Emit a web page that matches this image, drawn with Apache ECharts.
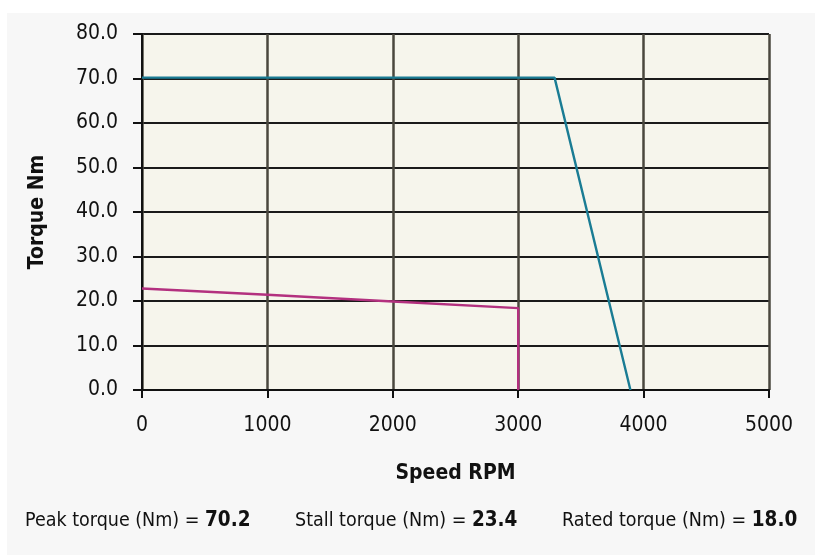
<!DOCTYPE html>
<html>
<head>
<meta charset="utf-8">
<script src="https://cdn.jsdelivr.net/npm/echarts@6/dist/echarts.min.js"></script>
<style>
  html, body { margin: 0; padding: 0; background: #ffffff; }
  #chart { width: 815px; height: 555px; }
</style>
</head>
<body>
<div id="chart"></div>
<script>
// Peak (intermittent) torque envelope: speed RPM, torque Nm
const peakSpeed = [0, 3290, 3895];
const peakTorque = [70.2, 70.2, 0];

// Continuous torque envelope
const contSpeed = [0, 1000, 2000, 3000, 3000];
const contTorque = [22.8, 21.4, 19.9, 18.4, 0];

// Summary figures
const peakValue = '70.2';
const stallValue = '23.4';
const ratedValue = '18.0';

const FONT = '"DejaVu Sans Condensed", "Open Sans", "Noto Sans", sans-serif';

const chart = echarts.init(document.getElementById('chart'), null, { renderer: 'canvas' });

const toPairs = (xs, ys) => xs.map((x, i) => [x, ys[i]]);

const summaryRich = {
  n: { fontFamily: FONT, fontSize: 19.5, fill: '#111' },
  b: { fontFamily: FONT, fontSize: 20.5, fontWeight: 'bold', fill: '#111' }
};

chart.setOption({
  backgroundColor: '#ffffff',
  animation: false,
  graphic: [
    {
      type: 'rect', z: -10, silent: true,
      shape: { x: 7, y: 13, width: 808, height: 542 },
      style: { fill: '#f7f7f7' }
    },
    {
      type: 'text', left: 25, top: 510,
      style: { text: '{n|Peak torque (Nm) = }{b|' + peakValue + '}', rich: summaryRich }
    },
    {
      type: 'text', left: 295, top: 510,
      style: { text: '{n|Stall torque (Nm) = }{b|' + stallValue + '}', rich: summaryRich }
    },
    {
      type: 'text', left: 562, top: 510,
      style: { text: '{n|Rated torque (Nm) = }{b|' + ratedValue + '}', rich: summaryRich }
    }
  ],
  grid: {
    left: 142, right: 46, top: 34, bottom: 165,
    show: true, backgroundColor: '#f6f5ec', borderWidth: 0
  },
  xAxis: {
    type: 'value', min: 0, max: 5000, interval: 1000,
    name: 'Speed RPM', nameLocation: 'middle', nameGap: 73,
    nameTextStyle: { fontFamily: FONT, fontSize: 21, fontWeight: 'bold', color: '#111' },
    axisLine: { show: true, lineStyle: { color: '#111', width: 2 } },
    axisTick: { show: true, inside: false, length: 8, lineStyle: { color: '#111', width: 2 } },
    axisLabel: {
      fontFamily: FONT, fontSize: 21, color: '#111', margin: 25,
      formatter: v => String(v)
    },
    splitLine: { show: true, lineStyle: { color: '#4a473e', width: 2.5 } }
  },
  yAxis: {
    type: 'value', min: 0, max: 80, interval: 10,
    name: 'Torque Nm', nameLocation: 'middle', nameGap: 94, nameRotate: 90,
    nameTextStyle: { fontFamily: FONT, fontSize: 21, fontWeight: 'bold', color: '#111' },
    axisLine: { show: true, lineStyle: { color: '#111', width: 2 } },
    axisTick: { show: true, inside: false, length: 9, lineStyle: { color: '#111', width: 2 } },
    axisLabel: {
      fontFamily: FONT, fontSize: 21, color: '#111', margin: 24,
      formatter: v => v.toFixed(1)
    },
    splitLine: { show: true, lineStyle: { color: '#1a1a1a', width: 2 } }
  },
  series: [
    {
      name: 'Peak torque', type: 'line', symbol: 'none', z: 3,
      data: toPairs(peakSpeed, peakTorque),
      lineStyle: { color: '#1a7c94', width: 2.4 }
    },
    {
      name: 'Continuous torque', type: 'line', symbol: 'none', z: 3,
      data: toPairs(contSpeed, contTorque),
      lineStyle: { color: '#b3307f', width: 2.4 }
    }
  ]
});
</script>
</body>
</html>
